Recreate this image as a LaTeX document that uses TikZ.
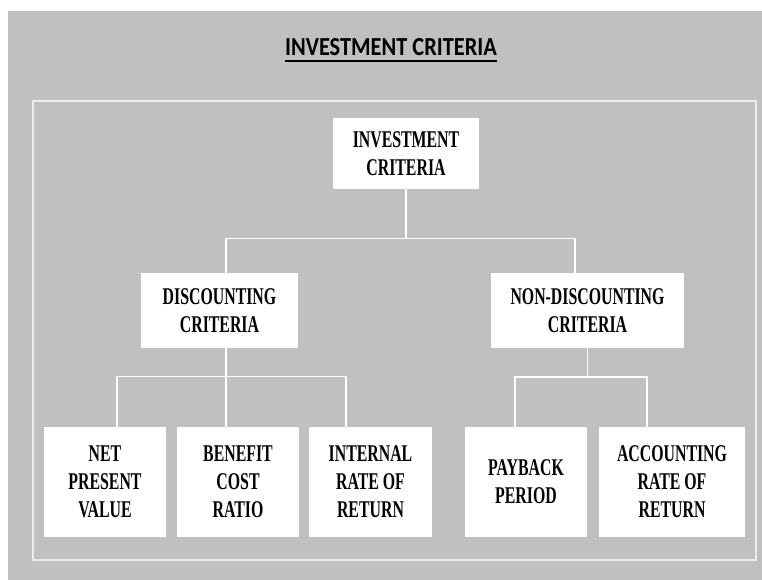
\documentclass[tikz,border=0pt]{standalone}
\usepackage{fontspec}
\setmainfont{Liberation Serif}
\newfontfamily\boxfont{Liberation Serif}[FakeStretch=0.66]
\newfontfamily\titlefont{Carlito}[FakeStretch=0.86]
\definecolor{slidegray}{RGB}{192,192,192}
\definecolor{framewhite}{RGB}{236,236,236}
\usetikzlibrary{positioning,calc}

\begin{document}
\begin{tikzpicture}[x=1pt,y=-1pt,
    crit/.style={fill=white,inner sep=0pt,align=center,
      font=\boxfont\bfseries\fontsize{24}{28}\selectfont},
    link/.style={draw=white,line width=1.8pt}]

  %% slide background and frame
  \fill[white] (0,0) rectangle (762,580);
  \fill[slidegray] (8,11) rectangle (762,580);
  \draw[framewhite,line width=2pt] (33,101) rectangle (756,560);
  \useasboundingbox (0,0) rectangle (762,580);

  %% title
  \node[font=\titlefont\bfseries\fontsize{26}{30}\selectfont,inner sep=0pt,anchor=base]
    (title) at (391,56) {INVESTMENT CRITERIA};
  \draw[line width=2pt] ([yshift=-5.5pt]title.base west) -- ([yshift=-5.5pt]title.base east);

  %% boxes
  \node[crit,minimum width=146,minimum height=71] (invest) at (406,153.5) {INVESTMENT\\CRITERIA};
  \node[crit,minimum width=157,minimum height=75] (disc) at (219.5,310.5) {DISCOUNTING\\CRITERIA};
  \node[crit,minimum width=193,minimum height=75] (nondisc) at (587.5,310.5) {NON-DISCOUNTING\\CRITERIA};
  \node[crit,minimum width=122,minimum height=110] (npv) at (105,482) {NET\\PRESENT\\VALUE};
  \node[crit,minimum width=122,minimum height=110] (bcr) at (238,482) {BENEFIT\\COST\\RATIO};
  \node[crit,minimum width=123,minimum height=110] (irr) at (370.5,482) {INTERNAL\\RATE OF\\RETURN};
  \node[crit,minimum width=122,minimum height=110] (payback) at (526,482) {PAYBACK\\PERIOD};
  \node[crit,minimum width=146,minimum height=110] (arr) at (672,482) {ACCOUNTING\\RATE OF\\RETURN};

  %% junctions
  \coordinate (j1) at (406,238.5);
  \coordinate (j2) at (226,376.5);
  \coordinate (j3) at (587.5,377);

  %% connectors
  \draw[link] (invest.south) -- (j1);
  \draw[link] ([xshift=6.5pt]disc.north) |- (j1) -| ([xshift=-12.5pt]nondisc.north);
  \draw[link] ([xshift=6.5pt]disc.south) -- (j2);
  \draw[link] ([xshift=12pt]npv.north) |- (j2) -| ([xshift=-24.5pt]irr.north);
  \draw[link] ([xshift=-12pt]bcr.north) -- (j2);
  \draw[link] (nondisc.south) -- (j3);
  \draw[link] ([xshift=-11pt]payback.north) |- (j3) -| ([xshift=-25pt]arr.north);
\end{tikzpicture}
\end{document}
